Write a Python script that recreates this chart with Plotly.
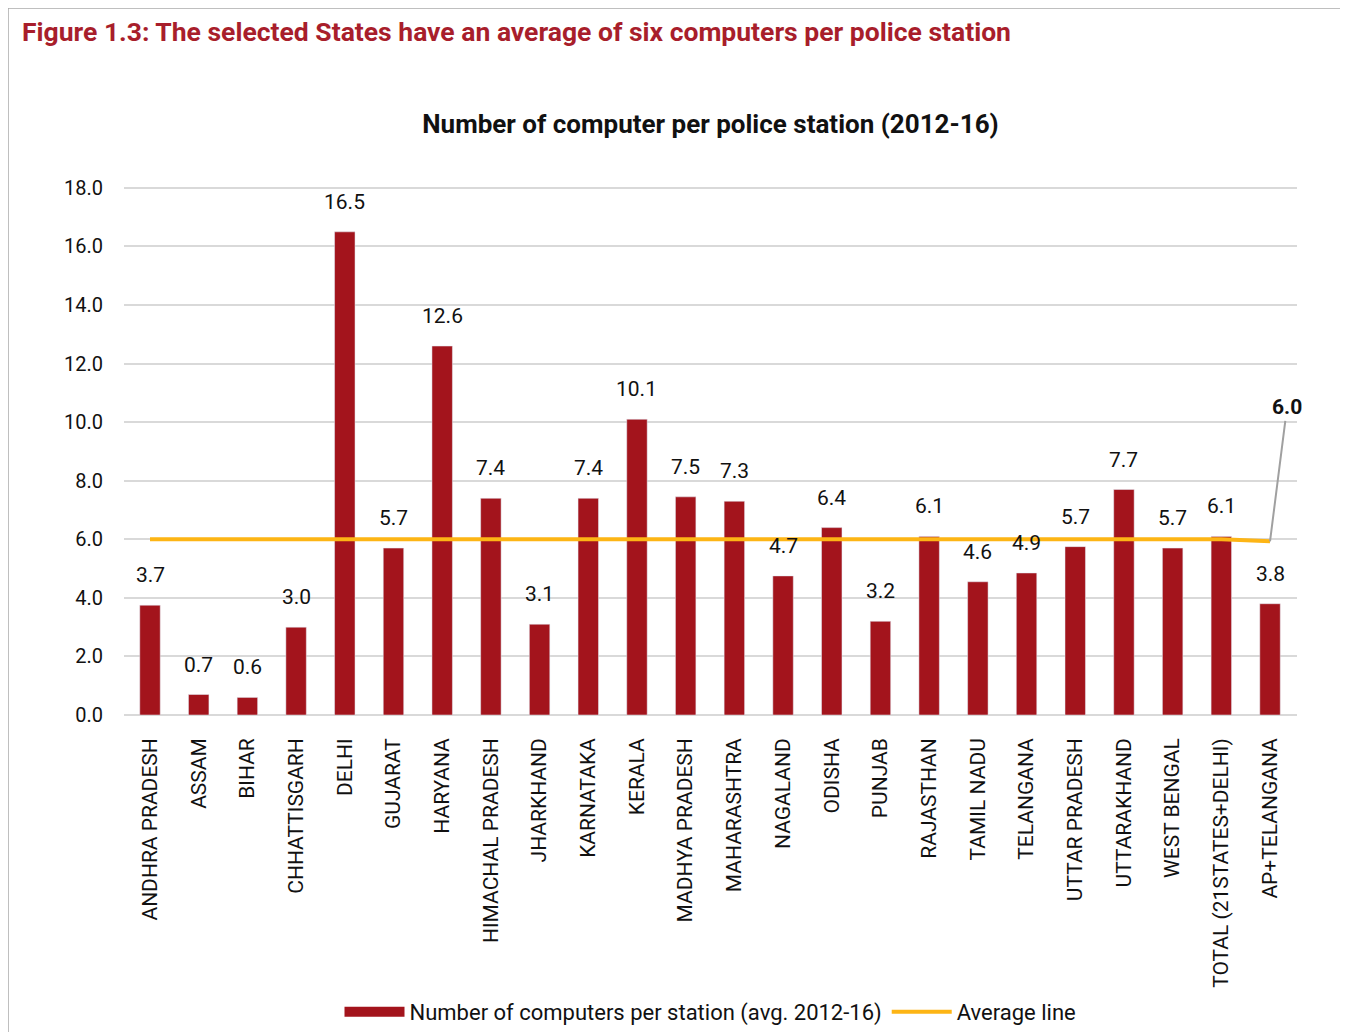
import plotly.graph_objects as go

categories = ["ANDHRA PRADESH", "ASSAM", "BIHAR", "CHHATTISGARH", "DELHI", "GUJARAT",
              "HARYANA", "HIMACHAL PRADESH", "JHARKHAND", "KARNATAKA", "KERALA",
              "MADHYA PRADESH", "MAHARASHTRA", "NAGALAND", "ODISHA", "PUNJAB",
              "RAJASTHAN", "TAMIL NADU", "TELANGANA", "UTTAR PRADESH", "UTTARAKHAND",
              "WEST BENGAL", "TOTAL (21STATES+DELHI)", "AP+TELANGANA"]
computers = [3.75, 0.7, 0.6, 3.0, 16.5, 5.7, 12.6, 7.4, 3.1, 7.4, 10.1, 7.45, 7.3, 4.75,
             6.4, 3.2, 6.1, 4.55, 4.85, 5.75, 7.7, 5.7, 6.1, 3.8]
computer_labels = ["3.7", "0.7", "0.6", "3.0", "16.5", "5.7", "12.6", "7.4", "3.1", "7.4",
                   "10.1", "7.5", "7.3", "4.7", "6.4", "3.2", "6.1", "4.6", "4.9", "5.7",
                   "7.7", "5.7", "6.1", "3.8"]
average = [6.0] * 23 + [5.93]
average_label = "6.0"

# page has an 8px body margin: figure origin sits at page (8, 8)
OFF = 8
W, H = 1340, 1024
YMAX = 18.1
UNIT = (715 - 188) / 18.0
L, R, B = 124 - OFF, 1297 - OFF, 715 - OFF
T = B - YMAX * UNIT
PW, PH = R - L, B - T

def px(x):
    return (x - OFF - L) / PW

def py(y):
    return (B - (y - OFF)) / PH

FONT = "Roboto"
BAR = "#A3141C"
GOLD = "#FDB515"

fig = go.Figure()
fig.add_trace(go.Bar(
    x=categories, y=computers, name="Number of computers per station (avg. 2012-16)",
    marker=dict(color=BAR), width=0.42, showlegend=False,
))
fig.add_trace(go.Scatter(
    x=[None], y=[None], name="Number of computers per station (avg. 2012-16)",
    mode="lines", line=dict(color=BAR, width=15), showlegend=True,
))
fig.add_trace(go.Scatter(
    x=categories, y=average, name="Average line", mode="lines",
    line=dict(color=GOLD, width=4),
))

annotations = []
for c, v, t in zip(categories, computers, computer_labels):
    annotations.append(dict(x=c, y=v, text=t, showarrow=False, yanchor="bottom",
                            yshift=16, font=dict(family=FONT, size=21, color="#111")))

annotations.append(dict(x=categories[-1], y=average[-1], text="<b>" + average_label + "</b>",
                        showarrow=True, arrowhead=0, arrowwidth=2, arrowcolor="#A0A0A0",
                        ax=17, ay=-134, xanchor="center", yanchor="middle",
                        font=dict(family=FONT, size=21, color="#111")))

annotations.append(dict(xref="paper", yref="paper", x=px(20), y=py(32),
                        xanchor="left", yanchor="middle", showarrow=False,
                        text="<b>Figure 1.3: The selected States have an average of six computers per police station</b>",
                        font=dict(family=FONT, size=26.5, color="#A81E2B")))

shapes = [
    dict(type="line", xref="paper", yref="paper", x0=px(8), x1=px(8), y0=py(8), y1=py(1040), line=dict(color="#AAAAAA", width=1.5)),
    dict(type="line", xref="paper", yref="paper", x0=px(8), x1=px(1360), y0=py(8), y1=py(8), line=dict(color="#AAAAAA", width=1.5)),
]

fig.update_layout(
    width=W, height=H,
    margin=dict(l=L, r=W - R, t=T, b=H - B, autoexpand=False),
    paper_bgcolor="white", plot_bgcolor="white",
    font=dict(family=FONT, color="#111"),
    title=dict(text="<b>Number of computer per police station (2012-16)</b>",
               x=0.5, xref="paper", xanchor="center", y=1 - (124 - OFF) / H, yanchor="middle",
               font=dict(family=FONT, size=26, color="#111")),
    showlegend=True,
    legend=dict(orientation="h", x=0.5, xanchor="center", y=py(1012), yanchor="middle",
                font=dict(family=FONT, size=22, color="#111"), itemwidth=60,
                traceorder="normal"),
    annotations=annotations,
    shapes=shapes,
)
fig.update_yaxes(range=[0, YMAX], tickvals=[0, 2, 4, 6, 8, 10, 12, 14, 16, 18],
                 tickformat=".1f", showgrid=True, gridcolor="#D9D9D9", gridwidth=2,
                 zeroline=True, zerolinecolor="#D9D9D9", zerolinewidth=2,
                 tickfont=dict(family=FONT, size=20, color="#111"), ticklabelstandoff=20,
                 showline=False)
fig.update_xaxes(range=[-0.534, 23.554], tickangle=-90,
                 tickfont=dict(family=FONT, size=21, color="#111"),
                 ticklabelstandoff=18, showgrid=False, showline=False)

fig.write_html("out.html")
